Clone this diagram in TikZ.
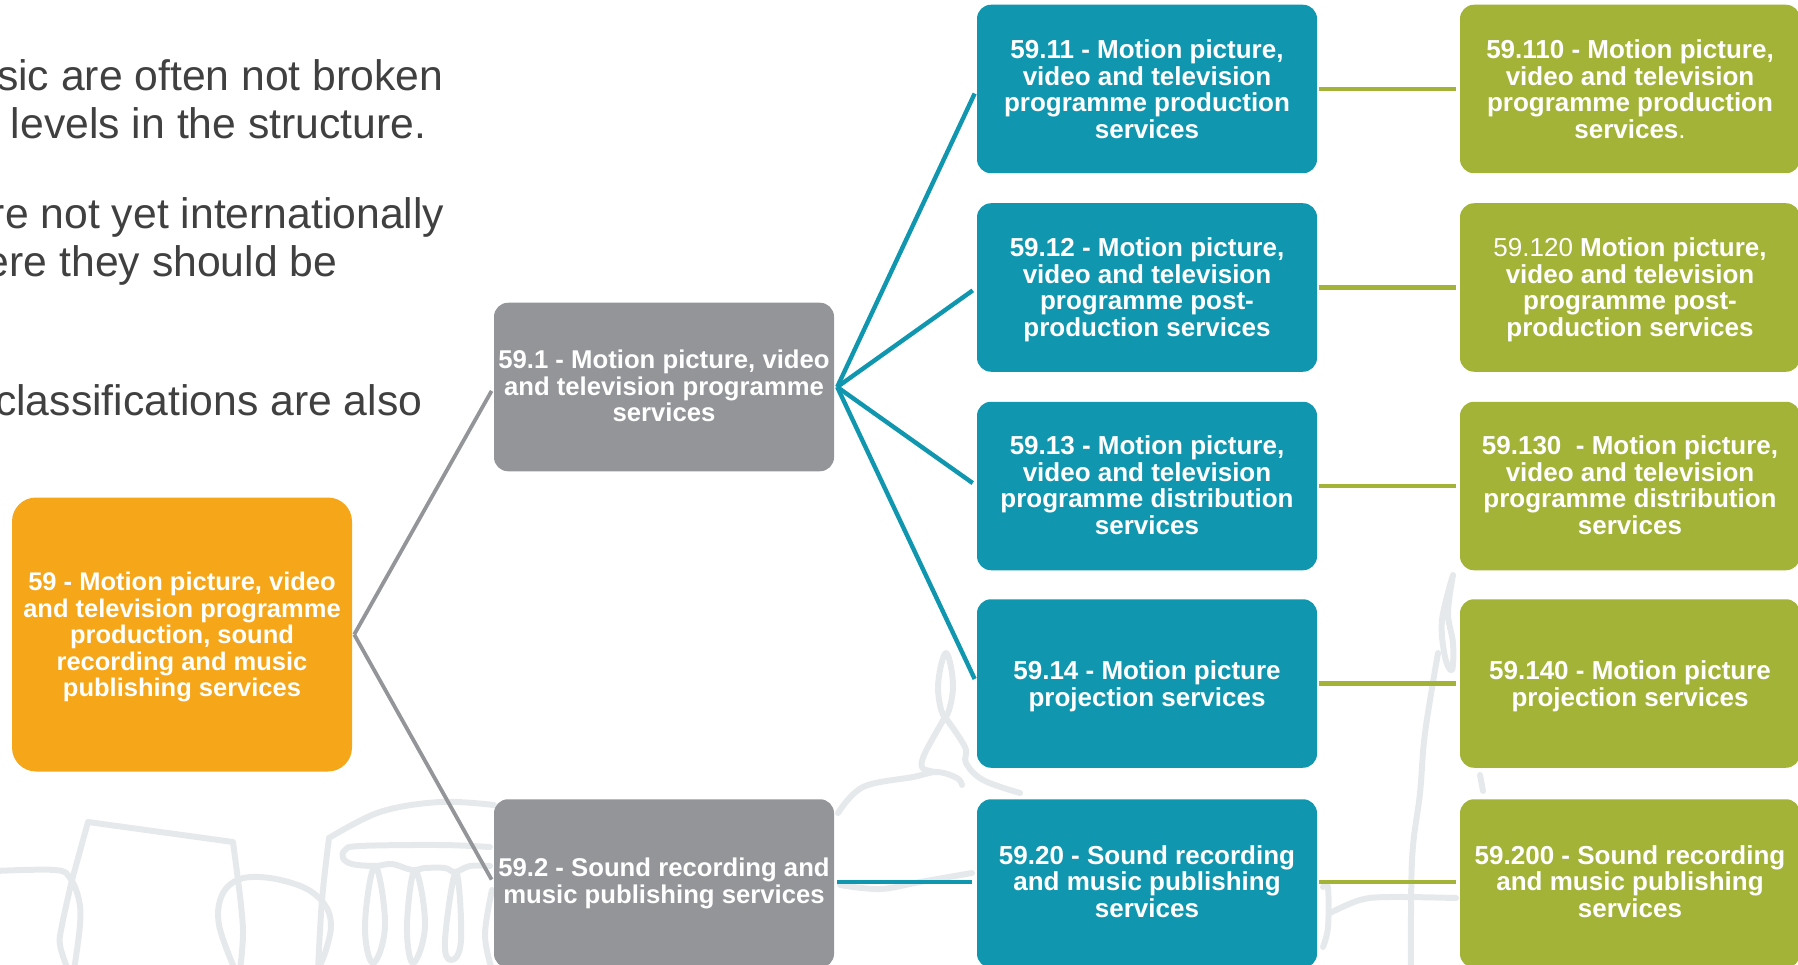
\documentclass[tikz,border=0pt]{standalone}
\usepackage{fontspec}
\setmainfont{Liberation Sans}
\definecolor{orangebox}{HTML}{F6A619}
\definecolor{greybox}{HTML}{939598}
\definecolor{tealbox}{HTML}{1097AF}
\definecolor{olivebox}{HTML}{A3B337}
\definecolor{sketchline}{HTML}{E6E9EC}
\definecolor{bodytext}{HTML}{404040}
% push a box's text down (tall strut in first line) or up (deep strut in last line)
\newcommand{\txtdown}[1]{\rule{0pt}{\dimexpr19pt+2\dimexpr#1pt\relax\relax}}
\newcommand{\txtup}[1]{\rule[-\dimexpr2\dimexpr#1pt\relax\relax]{0pt}{0pt}}
\tikzset{
 boxbase/.style={rectangle,rounded corners=14pt,minimum width=340pt,minimum height=168.5pt,inner sep=0pt,align=center,text=white,font=\fontsize{26}{26.5}\selectfont\bfseries},
 orangebox/.style={boxbase,fill=orangebox,rounded corners=24pt,minimum height=274pt,font=\fontsize{25.5}{26.5}\selectfont\bfseries},
 greybox/.style={boxbase,fill=greybox,font=\fontsize{25.7}{26.5}\selectfont\bfseries},
 tealbox/.style={boxbase,fill=tealbox},
 olivebox/.style={boxbase,fill=olivebox},
 bodyline/.style={anchor=base east,inner sep=0pt,text=bodytext,font=\fontsize{42.7}{48}\selectfont},
 sketch/.style={draw=sketchline,line width=6pt,line cap=round,line join=round},
 greylink/.style={line width=3.8pt,shorten >=4.5pt,draw=greybox},
 teallink/.style={line width=4.4pt,shorten >=5pt,draw=tealbox},
 olivelink/.style={line width=4.7pt,shorten <=2pt,shorten >=4pt,draw=olivebox},
}
\begin{document}
\begin{tikzpicture}[x=1pt,y=-1pt]
\useasboundingbox (0,0) rectangle (1798,965);
\clip (0,0) rectangle (1798,965);
% background sketch: left buildings
\draw[sketch] plot[smooth,tension=.6] coordinates {(-5,871) (55,870) (70,878) (79,900) (80,925) (74,970)};
\draw[sketch] plot[smooth,tension=.6] coordinates {(72,880) (62,925) (60,945) (68,970)};
\draw[sketch] (72,880) -- (88,822) -- (233,842) -- (238,880);
\draw[sketch] plot[smooth,tension=.6] coordinates {(235,970) (219,925) (222,895) (240,879) (270,878) (305,888) (325,905) (331,925) (326,950) (318,970)};
\draw[sketch] plot[smooth,tension=.6] coordinates {(238,880) (243,930) (240,970)};
\draw[sketch] plot[smooth,tension=.6] coordinates {(318,970) (322,900) (329,838)};
\draw[sketch] plot[smooth,tension=.6] coordinates {(329,838) (380,812) (440,802) (494,805)};
\draw[sketch] plot[smooth,tension=.6] coordinates {(490,847) (440,845) (360,846) (345,850) (343,858) (352,864) (375,866) (392,864) (412,870) (425,868) (445,868) (455,872) (470,866) (490,866)};
\draw[sketch] plot[smooth cycle,tension=.7] coordinates {(375,866) (365,925) (373,963) (385,925)};
\draw[sketch] plot[smooth cycle,tension=.7] coordinates {(415,870) (407,925) (413,963) (425,925)};
\draw[sketch] plot[smooth cycle,tension=.7] coordinates {(456,872) (445,940) (451,960) (461,940)};
\draw[sketch] plot[smooth,tension=.6] coordinates {(492,890) (485,935) (492,970)};
% background sketch: dome
\draw[sketch] plot[smooth cycle,tension=.7] coordinates {(946,653) (938,687) (945,717) (953,687)};
\draw[sketch] plot[smooth,tension=.6] coordinates {(945,717) (925,753) (922,767) (930,771) (937,772)};
\draw[sketch] plot[smooth,tension=.6] coordinates {(838,813) (863,787) (913,777) (937,772) (957,778) (962,785)};
\draw[sketch] plot[smooth,tension=.6] coordinates {(945,717) (965,747) (966,763) (983,780) (1020,793)};
\draw[sketch] plot[smooth,tension=.6] coordinates {(840,885) (880,889) (920,882) (972,873)};
% background sketch: right tower
\draw[sketch] plot[smooth,tension=.6] coordinates {(1453,575) (1442,620) (1445,657) (1452,670) (1453,643) (1448,613) (1453,575)};
\draw[sketch] plot[smooth,tension=.6] coordinates {(1438,653) (1425,733) (1420,793) (1412,860) (1411,970)};
\draw[sketch] (1480,775) -- (1483,791);
\draw[sketch] plot[smooth,tension=.6] coordinates {(1330,913) (1360,900) (1390,897) (1456,898)};
\draw[sketch] plot[smooth,tension=.6] coordinates {(1323,887) (1328,888) (1328,927) (1323,947)};
% left text
\node[bodyline] (t1) at (443.5,91) {sic are often not broken};
\node[bodyline] (t2) at (426.5,139) {levels in the structure.};
\node[bodyline] (t3) at (444.5,229) {re not yet internationally};
\node[bodyline] (t4) at (337.5,277) {ere they should be};
\node[bodyline] (t5) at (422.5,415) {classifications are also};
% boxes
\node[orangebox] (n59) at (182,634.5) {\txtdown{2.3}59 - Motion picture, video\\and television programme\\production, sound\\recording and music\\publishing services};
\node[greybox] (n591) at (664,387) {59.1 - Motion picture, video\\and television programme\\services\txtup{1.1}};
\node[greybox] (n592) at (664,883.5) {59.2 - Sound recording and\\music publishing services};
\node[tealbox] (n5911) at (1147,89) {59.11 - Motion picture,\\video and television\\programme production\\services};
\node[tealbox] (n5912) at (1147,287.5) {\txtdown{2.3}59.12 - Motion picture,\\video and television\\programme post-\\production services};
\node[tealbox] (n5913) at (1147,486) {59.13 - Motion picture,\\video and television\\programme distribution\\services\txtup{1.1}};
\node[tealbox] (n5914) at (1147,683.5) {\txtdown{2.9}59.14 - Motion picture\\projection services};
\node[tealbox] (n5920) at (1147,883.5) {59.20 - Sound recording\\and music publishing\\services\txtup{2.3}};
\node[olivebox] (n59110) at (1630,89) {59.110 - Motion picture,\\video and television\\programme production\\services{\mdseries .}};
\node[olivebox] (n59120) at (1630,287.5) {\txtdown{2.3}{\mdseries 59.120} Motion picture,\\video and television\\programme post-\\production services};
\node[olivebox] (n59130) at (1630,486) {59.130\ \ - Motion picture,\\video and television\\programme distribution\\services\txtup{1.1}};
\node[olivebox] (n59140) at (1630,683.5) {\txtdown{2.9}59.140 - Motion picture\\projection services};
\node[olivebox] (n59200) at (1630,883.5) {59.200 - Sound recording\\and music publishing\\services\txtup{2.3}};
% connectors
\draw[greylink] ([xshift=2pt]n59.east) -- (n591.west);
\draw[greylink] ([xshift=2pt]n59.east) -- (n592.west);
\draw[teallink] ([xshift=3pt]n591.east) -- (n5911.west);
\draw[teallink] ([xshift=3pt]n591.east) -- (n5912.west);
\draw[teallink] ([xshift=3pt]n591.east) -- (n5913.west);
\draw[teallink] ([xshift=3pt]n591.east) -- (n5914.west);
\draw[teallink] ([xshift=3pt,yshift=1.5pt]n592.east) -- ([yshift=1.5pt]n5920.west);
\draw[olivelink] (n5911.east) -- (n59110.west);
\draw[olivelink] (n5912.east) -- (n59120.west);
\draw[olivelink] (n5913.east) -- (n59130.west);
\draw[olivelink] (n5914.east) -- (n59140.west);
\draw[olivelink] ([yshift=1.5pt]n5920.east) -- ([yshift=1.5pt]n59200.west);
\end{tikzpicture}
\end{document}
